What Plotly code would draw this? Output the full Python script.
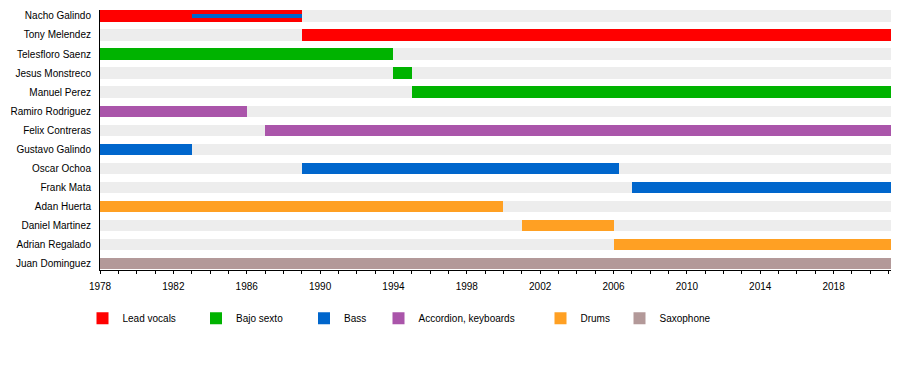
import plotly.graph_objects as go

# ---------------- data ----------------
members = [
    "Nacho Galindo", "Tony Melendez", "Telesfloro Saenz", "Jesus Monstreco",
    "Manuel Perez", "Ramiro Rodriguez", "Felix Contreras", "Gustavo Galindo",
    "Oscar Ochoa", "Frank Mata", "Adan Huerta", "Daniel Martinez",
    "Adrian Regalado", "Juan Dominguez",
]
START = 1978
END = 2021.13

lead_members = ["Nacho Galindo", "Tony Melendez"]
lead_start = [1978, 1989]
lead_end = [1989, END]

bajo_members = ["Telesfloro Saenz", "Jesus Monstreco", "Manuel Perez"]
bajo_start = [1978, 1994, 1995]
bajo_end = [1994, 1995, END]

bass_members = ["Gustavo Galindo", "Oscar Ochoa", "Frank Mata"]
bass_start = [1978, 1989, 2007]
bass_end = [1983, 2006.3, END]

bass2_members = ["Nacho Galindo"]
bass2_start = [1983]
bass2_end = [1989]

accordion_members = ["Ramiro Rodriguez", "Felix Contreras"]
accordion_start = [1978, 1987]
accordion_end = [1986, END]

drums_members = ["Adan Huerta", "Daniel Martinez", "Adrian Regalado"]
drums_start = [1978, 2001, 2006]
drums_end = [2000, 2006, END]

sax_members = ["Juan Dominguez"]
sax_start = [1978]
sax_end = [END]

tick_years = list(range(1978, 2021, 4))

# ---------------- styles ----------------
FONT = "Liberation Sans, Arial, sans-serif"
BAR_W = 0.6
THIN_W = 0.21
colors = {
    "Lead vocals": "#FF0000",
    "Bajo sexto": "#00B300",
    "Bass": "#0066CC",
    "Accordion, keyboards": "#AA55AA",
    "Drums": "#FFA023",
    "Saxophone": "#B39999",
}
PAGE_OFF = 8          # browser default body margin
W, H = 900 - PAGE_OFF, 370 - PAGE_OFF
legend_sym_center = [104, 217.5, 325.5, 400, 562, 641]   # page px
LEGEND_OFFSET = 21.5
legend_y = 318.3                                         # page px

def rows(names):
    return [members.index(n) for n in names]

fig = go.Figure()

# background bars
fig.add_trace(go.Bar(
    y=list(range(len(members))), base=[START] * len(members),
    x=[END - START] * len(members), orientation="h", width=BAR_W,
    marker=dict(color="#EDEDED", line=dict(width=0)),
    showlegend=False, hoverinfo="skip",
))

groups = [
    ("Lead vocals", lead_members, lead_start, lead_end),
    ("Bajo sexto", bajo_members, bajo_start, bajo_end),
    ("Bass", bass_members, bass_start, bass_end),
    ("Accordion, keyboards", accordion_members, accordion_start, accordion_end),
    ("Drums", drums_members, drums_start, drums_end),
    ("Saxophone", sax_members, sax_start, sax_end),
]

for i, (name, mem, st, en) in enumerate(groups):
    lg = "legend" if i == 0 else f"legend{i + 1}"
    fig.add_trace(go.Bar(
        y=rows(mem), base=st, x=[e - s for s, e in zip(st, en)],
        orientation="h", width=BAR_W, name=name,
        marker=dict(color=colors[name], line=dict(width=0)),
        legend=lg, showlegend=True, hoverinfo="skip",
    ))

fig.add_trace(go.Bar(
    y=rows(bass2_members), base=bass2_start,
    x=[e - s for s, e in zip(bass2_start, bass2_end)],
    orientation="h", width=THIN_W, name="Bass",
    marker=dict(color=colors["Bass"], line=dict(width=0)),
    showlegend=False, hoverinfo="skip",
))

layout_legends = {}
for i, cx in enumerate(legend_sym_center):
    key = "legend" if i == 0 else f"legend{i + 1}"
    layout_legends[key] = dict(
        x=(cx - PAGE_OFF - LEGEND_OFFSET) / W, xref="container", xanchor="left",
        y=1 - (legend_y - PAGE_OFF) / H, yref="container", yanchor="middle",
        bgcolor="rgba(0,0,0,0)", borderwidth=0,
        font=dict(family=FONT, size=10, color="#000"),
    )

fig.update_layout(
    width=W, height=H,
    margin=dict(l=100 - PAGE_OFF, r=900 - 890.7, t=10 - PAGE_OFF,
                b=370 - 270.3, autoexpand=False),
    barmode="overlay", bargap=0,
    plot_bgcolor="white", paper_bgcolor="white",
    font=dict(family=FONT, size=10, color="#000"),
    xaxis=dict(
        range=[START, END], tickvals=tick_years, ticktext=[str(t) for t in tick_years],
        showgrid=False, zeroline=False, showline=True, linecolor="#000", linewidth=1,
        ticks="outside", ticklen=3, tickcolor="#000", tickwidth=1,
        ticklabelstandoff=4,
        minor=dict(dtick=1, tick0=1978, ticks="outside", ticklen=3, tickcolor="#000", showgrid=False),
        tickfont=dict(family=FONT, size=10, color="#000"),
    ),
    yaxis=dict(
        range=[13.33, -0.31], tickvals=list(range(len(members))), ticktext=members,
        showgrid=False, zeroline=False, showline=True, linecolor="#000", linewidth=1,
        ticks="", ticklabelstandoff=6,
        tickfont=dict(family=FONT, size=10, color="#000"),
    ),
    **layout_legends,
)

fig.write_html("out.html")
